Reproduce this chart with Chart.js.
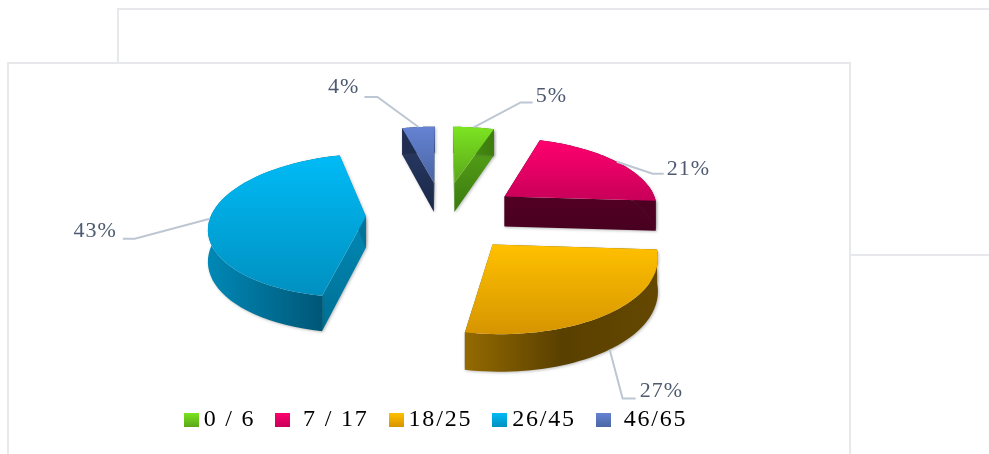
<!DOCTYPE html>
<html>
<head>
<meta charset="utf-8">
<title>Age groups</title>
<script src="https://cdn.jsdelivr.net/npm/chart.js@4"></script>
<style>
  html, body { margin: 0; padding: 0; background: #fff; overflow: hidden; }
  #page { position: relative; width: 989px; height: 454px; }
  .panel { position: absolute; background: #fff; border: 2px solid #e7e8ec; box-sizing: border-box; }
  #back { left: 117px; top: 8px; width: 900px; height: 248px; }
  #front { left: 7px; top: 62px; width: 844px; height: 420px; }
  canvas { position: absolute; left: 8px; top: 0; }
</style>
</head>
<body>
<div id="page">
  <div id="back" class="panel"></div>
  <div id="front" class="panel"></div>
  <canvas id="age-chart" width="843" height="442"></canvas>
</div>
<script>
const categories = ["0 / 6", " 7 / 17", "18/25", "26/45", " 46/65"];
const shares = [5, 21, 27, 43, 4];

// Slice colours: top gradient, rim gradient, cut face gradient
const sliceColors = [
  { top: ["#7ce421", "#5aa61a"], rim: ["#4f9a18", "#3c7c0e"], cut: ["#5cab1b", "#3a7a0e"] },
  { top: ["#ff006f", "#c80059"], rim: ["#4d0022", "#4d0022"], cut: ["#520024", "#480020"] },
  { top: ["#ffc000", "#d69500"], rim: ["#946a00", "#5a4000", "#644800"], cut: ["#7f5b00", "#5a4000"] },
  { top: ["#00bbf6", "#0090c0"], rim: ["#0088b6", "#006c92", "#004f6d"], cut: ["#0089b5", "#006f94"] },
  { top: ["#6582d4", "#4a66a3"], rim: ["#1f2e52", "#1c294a"], cut: ["#2a3d6c", "#1a2745"] }
];

// Leader line: elbow offset, tail length and where the text sits after it
const leaders = [
  { dx: 47, dy: -25, tail: 12, tx: 3, ty: -6 },
  { dx: 36, dy: 12, tail: 11, tx: 3, ty: -5 },
  { dx: 13, dy: 49, tail: 13, tx: 4, ty: -7 },
  { dx: -75, dy: 20, tail: -12, tx: -6, ty: -8 },
  { dx: -41, dy: -30, tail: -13, tx: -5, ty: -10 }
];

const TILT = 0.455;         // vertical squash of the pie
const PERSPECTIVE = 0.0008; // near side looks bigger
const DEPTH = 31;           // slice thickness
const PIE_SHIFT = 4;        // pie sits right of the legend centre
const textColor = "#4d5a70";
const leaderColor = "#bdc6d3";

function project(el, u, v, z) {
  const w = 1 / (1 - PERSPECTIVE * v);
  return { x: el.x + PIE_SHIFT + u * w, y: el.y + TILT * v * w + DEPTH * (z || 0) * w };
}

function sliceOutline(el) {
  const mid = (el.startAngle + el.endAngle) / 2;
  const ox = Math.cos(mid) * el.options.offset;
  const oy = Math.sin(mid) * el.options.offset;
  const at = (angle, r, z) => project(el, ox + Math.cos(angle) * r, oy + Math.sin(angle) * r, z);
  const steps = 48;
  const arc = [];
  const arcLow = [];
  for (let i = 0; i <= steps; i++) {
    const a = el.startAngle + (el.endAngle - el.startAngle) * i / steps;
    arc.push(at(a, el.outerRadius, 0));
    arcLow.push(at(a, el.outerRadius, 1));
  }
  return { at, mid, arc, arcLow, apex: at(0, 0, 0), apexLow: at(0, 0, 1) };
}

function fillPoly(ctx, pts, stops, horizontal) {
  const xs = pts.map(p => p.x);
  const ys = pts.map(p => p.y);
  const g = horizontal
    ? ctx.createLinearGradient(Math.min(...xs), 0, Math.max(...xs), 0)
    : ctx.createLinearGradient(0, Math.min(...ys), 0, Math.max(...ys));
  stops.forEach((c, i) => g.addColorStop(i / (stops.length - 1), c));
  ctx.fillStyle = g;
  ctx.beginPath();
  pts.forEach((p, i) => i ? ctx.lineTo(p.x, p.y) : ctx.moveTo(p.x, p.y));
  ctx.closePath();
  ctx.fill();
}

// Draws the arcs as tilted 3D slices from the geometry the library computed
const pie3d = {
  id: "pie3d",
  beforeUpdate(chart) {
    chart.ctx.letterSpacing = "1.8px";
  },
  beforeDatasetsDraw(chart) {
    const ctx = chart.ctx;
    const arcs = chart.getDatasetMeta(0).data;
    ctx.save();
    arcs.forEach((el, i) => {
      const s = sliceOutline(el);
      const c = sliceColors[i];
      const first = s.arc[0], last = s.arc[s.arc.length - 1];
      const firstLow = s.arcLow[0], lastLow = s.arcLow[s.arcLow.length - 1];
      ctx.shadowColor = "rgba(60,60,60,0.35)";
      ctx.shadowBlur = 3;
      ctx.shadowOffsetX = 1;
      ctx.shadowOffsetY = 1;
      fillPoly(ctx, [s.apex, first, firstLow, s.apexLow], c.cut);
      fillPoly(ctx, [s.apex, last, lastLow, s.apexLow], c.cut);
      fillPoly(ctx, s.arc.concat(s.arcLow.slice().reverse()), c.rim, true);
      ctx.shadowColor = "transparent";
      fillPoly(ctx, [s.apex].concat(s.arc), c.top);
    });

    const values = chart.data.datasets[0].data;
    const total = values.reduce((a, b) => a + b, 0);
    ctx.font = "22px 'Liberation Serif'";
    ctx.letterSpacing = "1px";
    ctx.textBaseline = "middle";
    arcs.forEach((el, i) => {
      const s = sliceOutline(el);
      const l = leaders[i];
      const start = s.at(s.mid, el.outerRadius, Math.sin(s.mid) > 0.5 ? 1 : 0);
      const ex = start.x + l.dx, ey = start.y + l.dy;
      ctx.strokeStyle = leaderColor;
      ctx.lineWidth = 2;
      ctx.beginPath();
      ctx.moveTo(start.x, start.y);
      ctx.lineTo(ex, ey);
      ctx.lineTo(ex + l.tail, ey);
      ctx.stroke();
      ctx.fillStyle = textColor;
      ctx.textAlign = l.tail > 0 ? "left" : "right";
      ctx.fillText(Math.round(values[i] / total * 100) + "%", ex + l.tail + l.tx, ey + l.ty);
    });
    ctx.restore();
    return false;
  }
};

function swatch(i) {
  const cv = document.createElement("canvas");
  cv.width = 15;
  cv.height = 14;
  const c = cv.getContext("2d");
  const g = c.createLinearGradient(0, 0, 0, 14);
  g.addColorStop(0, sliceColors[i].top[0]);
  g.addColorStop(1, sliceColors[i].top[1]);
  c.fillStyle = g;
  c.fillRect(0, 0, 15, 14);
  return cv;
}

new Chart(document.getElementById("age-chart"), {
  type: "pie",
  data: {
    labels: categories,
    datasets: [{
      data: shares,
      offset: 77,
      borderWidth: 0,
      backgroundColor: sliceColors.map(c => c.top[0])
    }]
  },
  options: {
    responsive: false,
    animation: false,
    radius: 155,
    layout: { padding: { left: 19, top: 50 } },
    plugins: {
      tooltip: { enabled: false },
      legend: {
        position: "bottom",
        onClick: null,
        labels: {
          color: "#5a6678",
          font: { family: "'Liberation Serif'", size: 24 },
          usePointStyle: true,
          pointStyleWidth: 1,
          padding: 27,
          generateLabels: chart => chart.data.labels.map((text, i) => ({
            text,
            index: i,
            hidden: false,
            lineWidth: 0,
            strokeStyle: "transparent",
            fillStyle: sliceColors[i].top[0],
            pointStyle: swatch(i)
          }))
        }
      }
    }
  },
  plugins: [pie3d]
});
</script>
</body>
</html>
